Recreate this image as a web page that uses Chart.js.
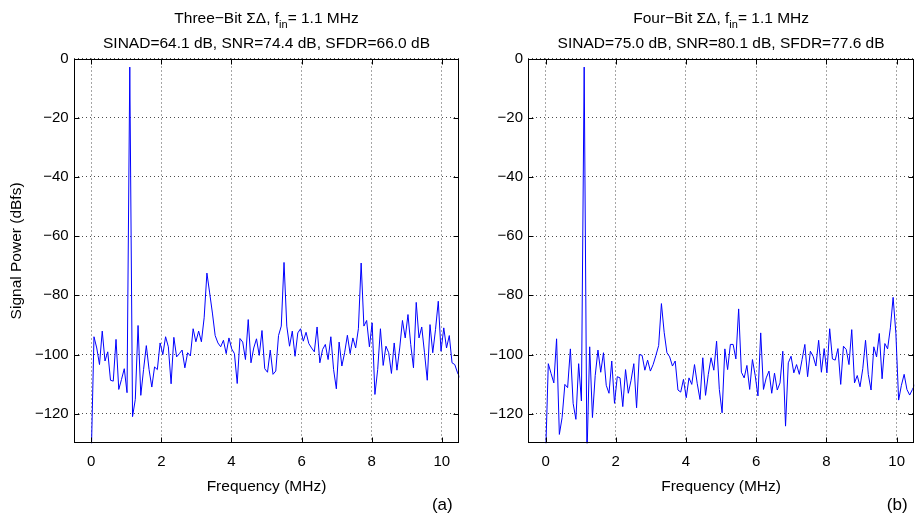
<!DOCTYPE html>
<html><head><meta charset="utf-8">
<script src="https://cdn.jsdelivr.net/npm/chart.js@4.4.1/dist/chart.umd.min.js"></script>
<style>
html,body{margin:0;padding:0;background:#fff;}
#wrap{position:relative;width:915px;height:520px;background:#fff;}
canvas{position:absolute;left:0;top:0;}
</style></head><body>
<div id="wrap"><canvas id="c1" width="915" height="520"></canvas><canvas id="c2" width="915" height="520"></canvas></div>
<script>
// FFT bin width (MHz): the 1.1 MHz tone falls on bin 14
const binMHz = 1.1 / 14;
const xTicks = [0, 2, 4, 6, 8, 10];
const yTicks = [-120, -100, -80, -60, -40, -20, 0];

// (a) Three-bit sigma-delta spectrum, dBfs per bin
const threeBit = [
 -135, -94.0, -97.8, -103.4, -92.1, -102.2, -99.1, -108.7, -109.0, -94.9,
 -111.8, -108.4, -104.8, -112.9, -2.9, -121.0, -115.2, -90.2, -113.8, -105.1,
 -97.0, -105.1, -111.0, -104.2, -105.1, -96.1, -100.0, -94.0, -97.4, -109.9,
 -94.2, -100.8, -99.7, -98.5, -104.5, -99.4, -100.5, -91.3, -95.7, -92.1,
 -95.7, -87.6, -72.5, -79.2, -86.0, -93.6, -96.1, -97.4, -95.2, -99.7,
 -94.4, -98.1, -99.7, -109.8, -94.6, -95.8, -101.7, -88.2, -102.8, -97.8,
 -94.7, -100.3, -91.9, -104.8, -106.0, -98.5, -106.7, -105.6, -93.6, -90.4,
 -68.9, -90.4, -97.2, -92.1, -100.6, -92.7, -91.3, -95.5, -92.5, -96.3,
 -97.8, -99.1, -90.7, -102.8, -98.3, -96.6, -101.7, -94.0, -105.1, -111.6,
 -95.8, -103.9, -99.4, -93.5, -99.7, -94.4, -97.8, -91.3, -69.1, -90.4,
 -88.5, -97.4, -89.3, -113.5, -105.1, -91.3, -103.7, -97.2, -99.4, -106.4,
 -96.1, -105.3, -97.8, -88.5, -94.4, -86.5, -96.6, -104.5, -82.4, -94.4,
 -90.7, -99.4, -108.7, -89.9, -99.4, -91.6, -82.0, -98.9, -91.0, -97.8,
 -93.6, -102.8, -103.4, -106.2, -108.0
];

// (b) Four-bit sigma-delta spectrum, dBfs per bin
const fourBit = [
 -135, -103.1, -106.4, -109.6, -94.7, -127.0, -121.3, -110.1, -111.2, -98.1,
 -116.5, -121.9, -103.1, -115.7, -2.9, -135, -97.4, -121.3, -107.1, -98.5,
 -106.0, -99.4, -110.4, -113.1, -102.2, -116.5, -107.5, -107.9, -117.6, -105.1,
 -113.1, -108.7, -103.1, -118.0, -100.0, -100.3, -105.3, -101.9, -105.6, -103.4,
 -100.3, -97.0, -82.8, -92.5, -99.4, -100.8, -103.9, -102.2, -112.0, -112.7,
 -108.4, -114.6, -107.9, -110.1, -103.4, -109.9, -115.2, -101.1, -113.8, -106.7,
 -101.1, -105.3, -95.5, -111.8, -119.7, -98.1, -105.1, -96.6, -96.6, -101.5,
 -84.6, -106.0, -107.9, -103.7, -111.8, -101.7, -107.1, -114.0, -92.7, -111.8,
 -107.9, -105.6, -113.1, -106.3, -112.0, -109.6, -98.9, -124.2, -102.8, -100.6,
 -106.2, -103.4, -106.7, -101.7, -96.6, -107.5, -98.9, -100.6, -103.9, -95.2,
 -106.0, -98.0, -106.2, -91.3, -101.5, -101.9, -98.0, -110.1, -97.2, -98.3,
 -103.4, -91.6, -109.6, -107.1, -110.9, -104.8, -95.2, -106.7, -112.0, -97.4,
 -100.8, -92.9, -108.2, -96.3, -98.1, -91.0, -80.7, -92.9, -115.4, -110.4,
 -106.7, -111.8, -113.7, -111.8, -110.0
];

const titlesA = ['Three\u2212Bit \u03A3\u0394, f', 'in', '= 1.1 MHz', 'SINAD=64.1 dB, SNR=74.4 dB, SFDR=66.0 dB'];
const titlesB = ['Four\u2212Bit \u03A3\u0394, f', 'in', '= 1.1 MHz', 'SINAD=75.0 dB, SNR=80.1 dB, SFDR=77.6 dB'];
const xLabel = 'Frequency (MHz)';
const yLabel = 'Signal Power (dBfs)';

const FONT = '"Liberation Sans", Arial, Helvetica, sans-serif';
const BIG = '15.5px ' + FONT;
const SMALL = '11px ' + FONT;

const framePlugin = {
  id: 'frame',
  afterDraw(chart, args, o) {
    const {ctx, chartArea: a, scales: {x, y}} = chart;
    ctx.save();
    ctx.strokeStyle = '#000';
    ctx.lineWidth = 1;
    const L = Math.round(a.left) + 0.5, R = Math.round(a.right) - 0.5;
    const T = Math.round(a.top) + 0.5, B = Math.round(a.bottom) - 0.5;
    ctx.strokeRect(L, T, R - L, B - T);
    const tl = 5;
    ctx.beginPath();
    x.ticks.forEach(t => {
      const px = Math.round(x.getPixelForValue(t.value)) + 0.5;
      ctx.moveTo(px, B); ctx.lineTo(px, B - tl);
      ctx.moveTo(px, T); ctx.lineTo(px, T + tl);
    });
    y.ticks.forEach(t => {
      const py = Math.round(y.getPixelForValue(t.value)) + 0.5;
      ctx.moveTo(L, py); ctx.lineTo(L + tl, py);
      ctx.moveTo(R, py); ctx.lineTo(R - tl, py);
    });
    ctx.stroke();

    ctx.fillStyle = '#000';
    const cx = (a.left + a.right) / 2;
    // title line 1 with subscript
    ctx.textBaseline = 'alphabetic';
    ctx.textAlign = 'left';
    ctx.font = BIG;
    const w1 = ctx.measureText(o.t[0]).width, w3 = ctx.measureText(o.t[2]).width;
    ctx.font = SMALL;
    const w2 = ctx.measureText(o.t[1]).width;
    const x0 = cx - (w1 + w2 + w3) / 2;
    ctx.font = BIG; ctx.fillText(o.t[0], x0, 22.5);
    ctx.font = SMALL; ctx.fillText(o.t[1], x0 + w1, 27.5);
    ctx.font = BIG; ctx.fillText(o.t[2], x0 + w1 + w2, 22.5);
    // title line 2
    ctx.textAlign = 'center';
    ctx.fillText(o.t[3], cx, 47.5);
    // x label
    ctx.textBaseline = 'middle';
    ctx.fillText(xLabel, cx, 487);
    // panel tag
    ctx.font = '17px ' + FONT;
    ctx.fillText(o.tag, a.right - 17, 505);
    // y label
    if (o.ylab) {
      ctx.font = BIG;
      ctx.translate(17, (a.top + a.bottom) / 2);
      ctx.rotate(-Math.PI / 2);
      ctx.fillText(yLabel, 0, 0);
    }
    ctx.restore();
  }
};

function makeChart(id, values, box, opts) {
  const pts = values.map((v, i) => ({x: i * binMHz, y: v}));
  return new Chart(document.getElementById(id), {
    type: 'line',
    data: {datasets: [{data: pts, borderColor: '#0000ff', borderWidth: 1, pointRadius: 0, tension: 0, fill: false}]},
    options: {
      responsive: false, animation: false, devicePixelRatio: 1,
      layout: {padding: {left: box.left - box.yw, top: box.top, right: 915 - box.right, bottom: 0}},
      plugins: {legend: {display: false}, tooltip: {enabled: false}, title: {display: false}, frame: opts},
      scales: {
        x: {
          type: 'linear', min: -0.5, max: 10.5,
          afterBuildTicks: s => { s.ticks = xTicks.map(v => ({value: v})); },
          afterFit: s => { s.height = 520 - box.bottom; },
          grid: {color: 'rgba(0,0,0,0.7)', lineWidth: 1, drawTicks: false},
          border: {display: false, dash: [1, 3]},
          ticks: {color: '#000', font: {family: FONT, size: 15}, padding: 10, maxRotation: 0,
                  callback: v => (v < 0 ? '\u2212' : '') + Math.abs(v)}
        },
        y: {
          type: 'linear', min: -130, max: 0,
          afterBuildTicks: s => { s.ticks = yTicks.map(v => ({value: v})); },
          afterFit: s => { s.width = box.yw; },
          grid: {color: 'rgba(0,0,0,0.7)', lineWidth: 1, drawTicks: false},
          border: {display: false, dash: [1, 3]},
          ticks: {color: '#000', font: {family: FONT, size: 15}, padding: 5,
                  callback: v => (v < 0 ? '\u2212' : '') + Math.abs(v)}
        }
      }
    },
    plugins: [framePlugin]
  });
}

makeChart('c1', threeBit, {left: 73.7, right: 459.3, top: 58.5, bottom: 443.3, yw: 73.7},
          {t: titlesA, tag: '(a)', ylab: true});
makeChart('c2', fourBit, {left: 528, right: 914.4, top: 58.5, bottom: 443.3, yw: 60},
          {t: titlesB, tag: '(b)', ylab: false});
</script>
</body></html>
